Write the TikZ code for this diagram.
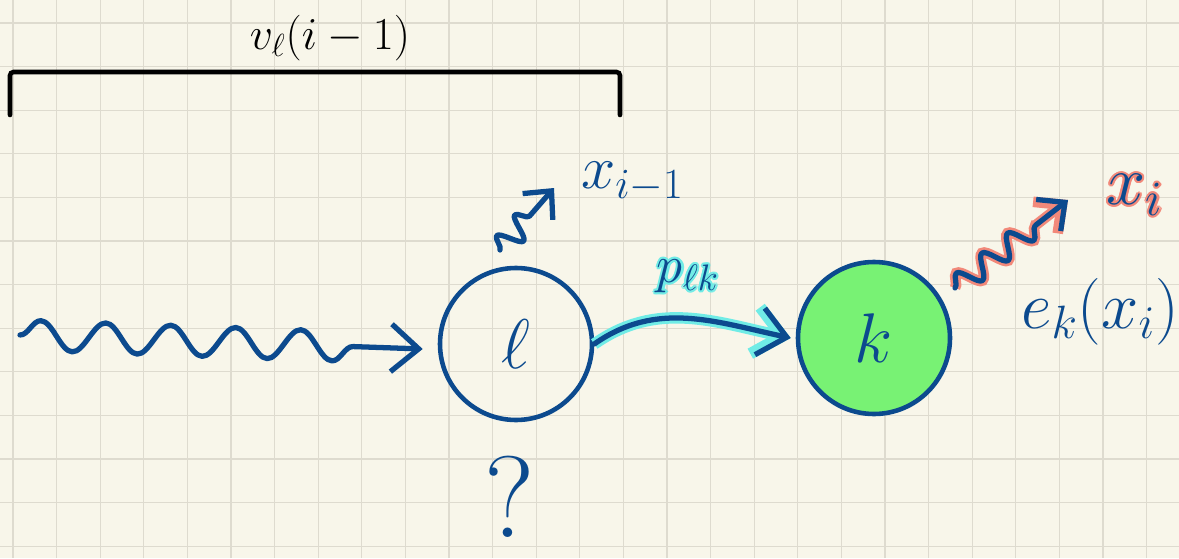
\documentclass[tikz,border=0pt]{standalone}
\usepackage{fix-cm}
\usetikzlibrary{arrows.meta, decorations.pathmorphing, calc}
\definecolor{paper}{RGB}{248,246,234}
\definecolor{gridgray}{RGB}{222,219,207}
\definecolor{ink}{RGB}{12,74,142}
\definecolor{stategreen}{RGB}{120,242,116}
\definecolor{glowcyan}{RGB}{112,236,230}
\definecolor{glowsalmon}{RGB}{242,137,122}
\newcommand{\hand}[1]{\fontsize{#1}{#1}\selectfont}
% highlighter halo behind a label
\newcommand{\glow}[2]{\leavevmode\rlap{\color{#1}\foreach \a in {0,30,...,330}{\pgfmathsetlengthmacro\gx{1.2pt*cos(\a)}\pgfmathsetlengthmacro\gy{1.2pt*sin(\a)}\rlap{\hspace*{\gx}\raisebox{\gy}{#2}}}}#2}

\tikzset{
	pen/.style={line width=3pt, line cap=round, line join=round, color=ink},
	statenode/.style={circle, draw=ink, line width=2.6pt, minimum size=3.04cm, inner sep=0pt, text=ink},
	bigbarb/.style={-{Straight Barb[length=0.55cm, width=0.95cm]}},
	smallbarb/.style={-{Straight Barb[length=0.42cm, width=0.8cm]}},
}

\begin{document}
\begin{tikzpicture}
	\fill[paper] (0,0) rectangle (23.58,11.16);
	\useasboundingbox (0,0) rectangle (23.58,11.16);
	\foreach \i in {0,...,26} {\draw[gridgray, line width=0.6pt] ({0.26+0.872*\i},0) -- ++(0,11.16);}
	\foreach \j in {0,...,12} {\draw[gridgray, line width=0.6pt] (0,{10.70-0.872*\j}) -- ++(23.58,0);}
	% states
	\node[statenode] (l) at (10.32,4.28) {\hand{40}$\ell$};
	\node[statenode, fill=stategreen] (k) at (17.48,4.40) {\hand{40}$k$};
	% window of earlier positions
	\coordinate (winl) at (0.2,8.86);
	\coordinate (winr) at (12.4,8.86);
	\draw[line width=2.6pt, rounded corners=2pt, line cap=round] (winl) -- ++(0,0.86) -| (winr);
	\node (vl) at (6.6,10.40) {\hand{26}$v_\ell(i-1)$};
	% incoming path
	\coordinate (src) at (0.4,4.46);
	\draw[pen, bigbarb, decorate, decoration={snake, segment length=1.3cm, amplitude=0.3cm, post length=1.1cm}] (src) -- ([shift={(-0.3,-0.1)}]l.west);
	% transition
	\draw[pen, bigbarb, preaction={draw=glowcyan, line width=6.5pt}] (l.east) to[out=35, in=168]
		node[midway, above=0.3cm, text=ink] (plk) {\hand{30}\glow{glowcyan}{$p_{\ell k}$}} ([xshift=-0.1cm]k.west);
	% emissions
	\coordinate (emitl) at (10.0,6.16);
	\coordinate (xprev) at (11.08,7.4);
	\draw[pen, smallbarb, decorate, decoration={snake, segment length=0.55cm, amplitude=0.24cm, post length=0.55cm}] (emitl) -- (xprev);
	\node[text=ink] (xim1) at (12.65,7.52) {\hand{35}$x_{i-1}$};
	\coordinate (emitk) at (19.1,5.4);
	\coordinate (xcur) at (21.36,7.16);
	\draw[pen, smallbarb, preaction={draw=glowsalmon, line width=6pt}, decorate, decoration={snake, segment length=0.65cm, amplitude=0.22cm, post length=0.8cm}] (emitk) -- (xcur);
	\node[text=ink] (xi) at (22.7,7.26) {\hand{40}\glow{glowsalmon}{$x_i$}};
	\node[text=ink] (ekxi) at (22.0,4.92) {\hand{38}$e_k(x_i)$};
	\node[text=ink] (qmark) at (10.2,1.22) {\hand{66}?};
\end{tikzpicture}
\end{document}
